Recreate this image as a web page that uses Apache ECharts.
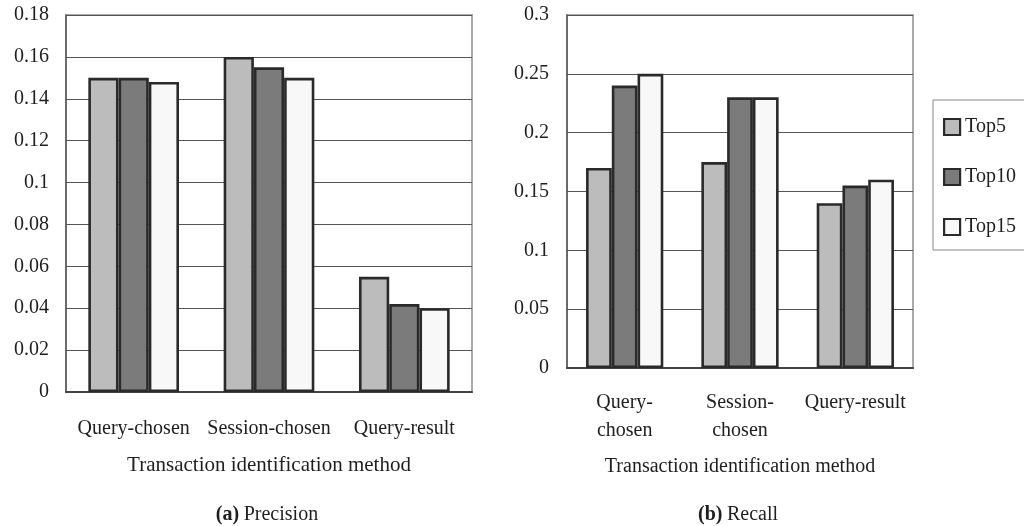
<!DOCTYPE html>
<html>
<head>
<meta charset="utf-8">
<script src="https://cdn.jsdelivr.net/npm/echarts@6/dist/echarts.min.js"></script>
<style>html,body{margin:0;padding:0;background:#fff;}#c{width:1024px;height:526px;}</style>
</head>
<body>
<div id="c"></div>
<script>
const seriesNames = ['Top5', 'Top10', 'Top15'];
const categoriesPrecision = ['Query-chosen', 'Session-chosen', 'Query-result'];
const categoriesRecall = ['Query-\nchosen', 'Session-\nchosen', 'Query-result'];
const precisionTop5 = [0.150, 0.160, 0.055];
const precisionTop10 = [0.150, 0.155, 0.042];
const precisionTop15 = [0.148, 0.150, 0.040];
const recallTop5 = [0.170, 0.175, 0.140];
const recallTop10 = [0.240, 0.230, 0.155];
const recallTop15 = [0.250, 0.230, 0.160];
const axisName = 'Transaction identification method';

const colors = ['#bcbcbc', '#7b7b7b', '#f8f8f8'];
const FONT = '"Liberation Serif", "Times New Roman", serif';
const TXT = '#1e1e1e';

function bar(name, data, idx, color) {
  return {
    name: name, type: 'bar', xAxisIndex: idx, yAxisIndex: idx, data: data,
    barGap: '0%', barCategoryGap: '33%',
    itemStyle: { color: color, borderColor: '#2a2a2a', borderWidth: 2.6 },
    emphasis: { disabled: true }, animation: false
  };
}

const chart = echarts.init(document.getElementById('c'), null, { renderer: 'canvas' });
chart.setOption({
  animation: false,
  textStyle: { fontFamily: FONT, color: TXT },
  title: [
    { text: '{b|(a)} {n|Precision}', left: 262, top: 500, textAlign: 'center',
      textStyle: { fontWeight: 'normal', rich: { b: { fontFamily: FONT, fontWeight: 'bold', fontSize: 20, color: TXT }, n: { fontFamily: FONT, fontWeight: 'normal', fontSize: 20, color: TXT } } } },
    { text: '{b|(b)} {n|Recall}', left: 733, top: 500, textAlign: 'center',
      textStyle: { fontWeight: 'normal', rich: { b: { fontFamily: FONT, fontWeight: 'bold', fontSize: 20, color: TXT }, n: { fontFamily: FONT, fontWeight: 'normal', fontSize: 20, color: TXT } } } }
  ],
  legend: {
    data: seriesNames, orient: 'vertical', left: 933, top: 100,
    itemWidth: 16, itemHeight: 16, itemGap: 30,
    padding: [17, 40, 13, 10],
    borderColor: '#888', borderWidth: 1,
    icon: 'rect',
    itemStyle: { borderColor: '#2a2a2a', borderWidth: 2.2 },
    textStyle: { fontFamily: FONT, fontSize: 20, color: TXT },
    selectedMode: false
  },
  grid: [
    { left: 66, top: 15, width: 406, height: 377, show: true, borderColor: '#aaa', borderWidth: 2, backgroundColor: '#fff' },
    { left: 567, top: 15, width: 346, height: 353, show: true, borderColor: '#aaa', borderWidth: 2, backgroundColor: '#fff' }
  ],
  xAxis: [
    { type: 'category', gridIndex: 0, data: categoriesPrecision,
      axisLine: { lineStyle: { color: '#444', width: 2 } },
      axisTick: { inside: true, length: 7, lineStyle: { color: '#444', width: 1.2 } },
      axisLabel: { fontFamily: FONT, fontSize: 20, color: TXT, margin: 23, lineHeight: 28, interval: 0 },
      name: axisName, nameLocation: 'middle', nameGap: 63,
      nameTextStyle: { fontFamily: FONT, fontSize: 21, color: TXT } },
    { type: 'category', gridIndex: 1, data: categoriesRecall,
      axisLine: { lineStyle: { color: '#444', width: 2 } },
      axisTick: { inside: true, length: 7, lineStyle: { color: '#444', width: 1.2 } },
      axisLabel: { fontFamily: FONT, fontSize: 20, color: TXT, margin: 21, lineHeight: 28, interval: 0 },
      name: axisName, nameLocation: 'middle', nameGap: 89,
      nameTextStyle: { fontFamily: FONT, fontSize: 20, color: TXT } }
  ],
  yAxis: [
    { type: 'value', gridIndex: 0, min: 0, max: 0.18, interval: 0.02,
      axisLine: { show: true, lineStyle: { color: '#555', width: 1.5 } },
      axisTick: { show: false },
      splitLine: { lineStyle: { color: '#555', width: 1 } },
      axisLabel: { fontFamily: FONT, fontSize: 20, color: TXT, margin: 17, padding: [7, 0, 0, 0] } },
    { type: 'value', gridIndex: 1, min: 0, max: 0.3, interval: 0.05,
      axisLine: { show: true, lineStyle: { color: '#555', width: 1.5 } },
      axisTick: { show: false },
      splitLine: { lineStyle: { color: '#555', width: 1 } },
      axisLabel: { fontFamily: FONT, fontSize: 20, color: TXT, margin: 18, padding: [7, 0, 0, 0] } }
  ],
  series: [
    bar(seriesNames[0], precisionTop5, 0, colors[0]),
    bar(seriesNames[1], precisionTop10, 0, colors[1]),
    bar(seriesNames[2], precisionTop15, 0, colors[2]),
    bar(seriesNames[0], recallTop5, 1, colors[0]),
    bar(seriesNames[1], recallTop10, 1, colors[1]),
    bar(seriesNames[2], recallTop15, 1, colors[2])
  ]
});
</script>
</body>
</html>
